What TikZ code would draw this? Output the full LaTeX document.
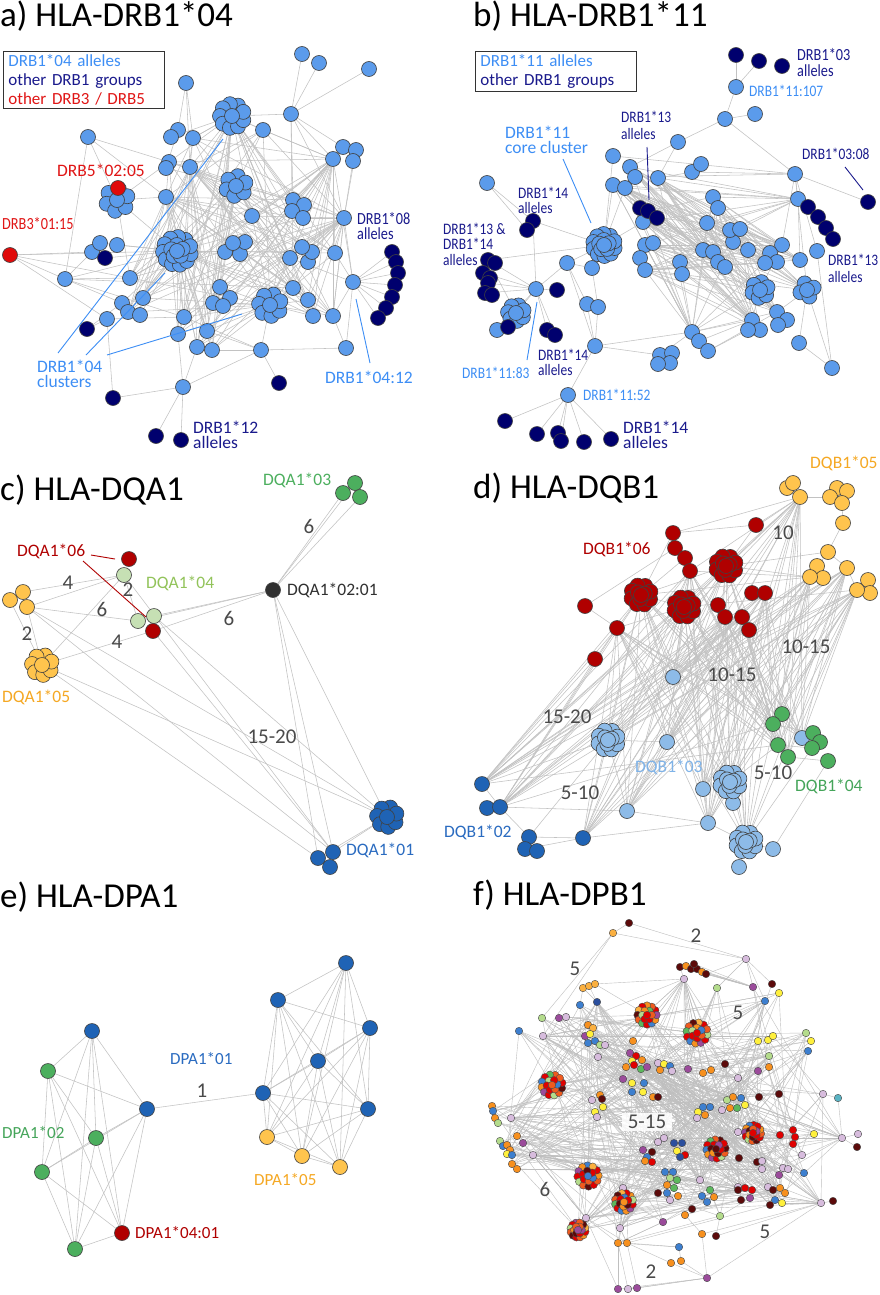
\documentclass[tikz,border=0pt]{standalone}
\usepackage{fontspec}
\setmainfont{Carlito}
\usetikzlibrary{calc}
\pgfdeclarelayer{bgfill}
\pgfdeclarelayer{edges}
\pgfsetlayers{bgfill,edges,main}
\definecolor{cLB}{HTML}{5B9BEB}
\definecolor{cNavy}{HTML}{00006E}
\definecolor{cRed}{HTML}{E00A0A}
\definecolor{tLB}{HTML}{3D8EF5}
\definecolor{tNavy}{HTML}{1A1A8C}
\definecolor{tRed}{HTML}{E01515}
\definecolor{cGold}{HTML}{FFC44D}
\definecolor{tGold}{HTML}{F5A823}
\definecolor{cDR}{HTML}{B00000}
\definecolor{cLG}{HTML}{C6E0B4}
\definecolor{tLG}{HTML}{92C35A}
\definecolor{cGr}{HTML}{4CAF5E}
\definecolor{tGr}{HTML}{45A55A}
\definecolor{cDB}{HTML}{1F63B5}
\definecolor{tDB}{HTML}{2A6BC0}
\definecolor{cLBd}{HTML}{8DBBE8}
\definecolor{tLBd}{HTML}{7FB3E8}
\definecolor{cBlk}{HTML}{303030}
\definecolor{cNum}{HTML}{4A4A4A}
\definecolor{fMar}{HTML}{5C0A0A}
\definecolor{fRed}{HTML}{E00000}
\definecolor{fOrr}{HTML}{F05A1E}
\definecolor{fOrg}{HTML}{F7901E}
\definecolor{fYor}{HTML}{FBB040}
\definecolor{fYel}{HTML}{FFF03C}
\definecolor{fLgr}{HTML}{B4DC8C}
\definecolor{fGrn}{HTML}{5CB85C}
\definecolor{fBlu}{HTML}{3D7FCF}
\definecolor{fDbl}{HTML}{2B4F9E}
\definecolor{fLpu}{HTML}{D7BCDD}
\definecolor{fPur}{HTML}{9B4B9B}
\definecolor{fTea}{HTML}{5AB4C4}
\def\mcol{{"fMar","fRed","fOrr","fOrg","fRed","fYor","fMar","fOrr","fGrn","fRed","fBlu","fOrg","fPur","fRed","fLgr","fOrr"}}
\newcommand\nb[1]{\scalebox{0.84}[1]{#1}}
% ring cluster: name, x, y, count, radius, style
\newcommand\clu[6]{%
  \foreach \k in {1,...,#4}{\node[#6] (#1-\k) at ($(#2,#3)+({360/#4*\k+20}:#5pt)$) {};}%
  \node[#6] (#1) at (#2,#3) {};}
% mosaic cluster: name, x, y, radius, colour offset
\newcommand\mosaic[5]{%
  \pgfmathsetmacro\mro{#4-4.5}%
  \pgfmathsetmacro\mri{(#4-4.5)/2}%
  \foreach \k in {1,...,12}{\pgfmathtruncatemacro\ci{mod(\k+#5,16)}\pgfmathsetmacro\cc{\mcol[\ci]}%
    \node[fn,fill=\cc] (#1-o\k) at ($(#2,#3)+({30*\k+7*#5}:\mro pt)$) {};}%
  \foreach \k in {1,...,6}{\pgfmathtruncatemacro\ci{mod(3*\k+#5+5,16)}\pgfmathsetmacro\cc{\mcol[\ci]}%
    \node[fn,fill=\cc] (#1-i\k) at ($(#2,#3)+({60*\k+11*#5}:\mri pt)$) {};}%
  \pgfmathtruncatemacro\ci{mod(#5+1,16)}\pgfmathsetmacro\cc{\mcol[\ci]}%
  \node[fn,fill=\cc] (#1) at (#2,#3) {};}
\begin{document}
\begin{tikzpicture}[x=1pt,y=-1pt,
  nd/.style={circle,draw=black!75,line width=0.6pt,minimum size=15pt,inner sep=0pt},
  na/.style={nd,fill=cLB}, nk/.style={nd,fill=cNavy}, nr/.style={nd,fill=cRed},
  ndr/.style={nd,fill=cDR}, ndl/.style={nd,fill=cLBd}, ndg/.style={nd,fill=cGr},
  ndb/.style={nd,fill=cDB}, ndy/.style={nd,fill=cGold}, ndlg/.style={nd,fill=cLG},
  ndk/.style={nd,fill=cBlk},
  fn/.style={circle,draw=black!70,line width=0.4pt,minimum size=7.5pt,inner sep=0pt},
  ed/.style={draw=black!24,line width=0.55pt},
  fe/.style={draw=black!25,line width=0.4pt},
  lead/.style={line width=0.9pt},
  lab/.style={anchor=west,inner sep=0pt,align=left},
  num/.style={text=cNum,font=\fontsize{21}{21}\selectfont,inner sep=1pt},
  ttl/.style={anchor=base west,inner sep=0pt,font=\fontsize{35}{38}\selectfont},
  leg/.style={draw=black!80,line width=0.8pt,anchor=north west,align=left,text width=151pt,inner xsep=5pt,inner ysep=3pt,font=\fontsize{17}{19}\selectfont}]
\begin{pgfonlayer}{bgfill}
\fill[white] (0,0) rectangle (879,1295);
\end{pgfonlayer}
\useasboundingbox (0,0) rectangle (879,1295);
% ---------------- titles
\node[ttl] (tA) at (0,27) {a) HLA-DRB1*04};
\node[ttl] (tB) at (473,27) {b) HLA-DRB1*11};
\node[ttl] (tC) at (0,500) {c) HLA-DQA1};
\node[ttl] (tD) at (473,498) {d) HLA-DQB1};
\node[ttl] (tE) at (0,907) {e) HLA-DPA1};
\node[ttl] (tF) at (473,905) {f) HLA-DPB1};
% ================= panel a
\node[leg] (legA) at (3,51) {\textcolor{tLB}{DRB1*04 alleles}\\\textcolor{tNavy}{other DRB1 groups}\\\textcolor{tRed}{other DRB3 / DRB5}};
\foreach \n/\x/\y in {a1/302/54,a2/319/63,a3/369/69,a4/186/83,a5/263/130,a6/291/114,a7/88/137,a8/178/130,a9/171/137,a10/193/138,%
a11/169/162,a12/166/168,a13/190/167,a14/166/197,a15/343/147,a16/356/150,a17/333/159,a18/353/161,a19/293/200,a20/304/205,%
a21/292/211,a22/303/218,a23/252/216,a24/344/218,a25/92/252,a26/100/243,a27/117/245,a28/65/279,a29/130/278,a30/225/252,%
a31/240/254,a32/245/242,a33/233/243,a34/290/258,a35/308/262,a36/312/252,a37/302/247,a38/335/253,a39/353/282,a40/220/287,%
a41/230/298,a42/213/303,a43/223/306,a44/293/288,a45/308/300,a46/313/316,a47/333/316,a48/122/303,a49/143/298,a50/128/312,%
a51/140/315,a52/107/319,a53/184/317,a54/178/334,a55/207/331,a56/197/347,a57/212/350,a58/261/350,a59/346/348,a60/183/387}%
  {\node[na] (\n) at (\x,\y) {};}
\clu{aC1}{232}{116}{9}{12}{na}
\clu{aC2}{117}{200}{6}{11}{na}
\node[nr] (ar1) at (118,188) {};
\clu{aC3}{236}{186}{6}{10}{na}
\clu{aC4}{270}{305}{7}{11}{na}
\clu{aBigO}{177}{251}{11}{14}{na}
\clu{aBig}{177}{251}{5}{6}{na}
\node[nr] (ar2) at (10,255) {};
\foreach \n/\x/\y in {ad1/105/258,ad2/392/252,ad3/396/262,ad4/398/273,ad5/395/285,ad6/392/297,ad7/386/308,ad8/378/318,%
ad9/87/329,ad10/279/383,ad11/113/398,ad12/156/436,ad13/181/440}%
  {\node[nk] (\n) at (\x,\y) {};}
\node[lab,text=tRed,font=\fontsize{17.5}{17}\selectfont] (lA1) at (57,170) {DRB5*02:05};
\node[lab,text=tRed,font=\fontsize{17}{17}\selectfont] (lA2) at (2,224) {\nb{DRB3*01:15}};
\node[lab,text=tNavy,font=\fontsize{17}{15}\selectfont] (lA3) at (357,226) {\nb{DRB1*08}\\\nb{alleles}};
\node[lab,text=tLB,font=\fontsize{17.5}{15}\selectfont] (lA4) at (37,374) {DRB1*04\\clusters};
\node[lab,text=tLB,font=\fontsize{17.5}{17}\selectfont] (lA5) at (325,377) {DRB1*04:12};
\node[lab,text=tNavy,font=\fontsize{17.5}{15}\selectfont] (lA6) at (193,435) {DRB1*12\\alleles};
\coordinate (qa1) at (58,353); \coordinate (qa2) at (223,139);
\coordinate (qa3) at (86,355); \coordinate (qa4) at (165,273);
\coordinate (qa5) at (107,355); \coordinate (qa6) at (242,314);
\coordinate (qa7) at (370,363); \coordinate (qa8) at (356,299);
\draw[lead,tLB] (qa1) -- (qa2);
\draw[lead,tLB] (qa3) -- (qa4);
\draw[lead,tLB] (qa5) -- (qa6);
\draw[lead,tLB] (qa7) -- (qa8);
% ================= panel b
\node[leg] (legB) at (475,51) {\textcolor{tLB}{DRB1*11 alleles}\\\textcolor{tNavy}{other DRB1 groups}};
\foreach \n/\x/\y in {b1/736/87,b2/755/114,b3/725/119,b4/678/142,b5/613/156,b6/630/167,b7/635/177,b8/613/185,b9/625/188,b10/658/178,%
b11/692/172,b12/701/164,b13/713/197,b14/718/208,b15/643/222,b16/795/174,b17/798/199,b18/487/183,b19/567/263,b20/592/268,%
b21/536/289,b22/587/304,b23/598/307,b24/595/346,b25/568/395,b26/660/355,b27/672/353,b28/670/363,b29/658/364,b30/692/332,%
b31/699/341,b32/708/351,b33/645/245,b34/653/243,b35/640/258,b36/645/270,b37/680/262,b38/682/274,b39/703/250,b40/713/252,%
b41/718/262,b42/725/267,b43/733/242,b44/748/250,b45/782/245,b46/770/253,b47/777/262,b48/765/263,b49/800/260,b50/817/251,%
b51/777/312,b52/787/320,b53/778/325,b54/752/320,b55/760/330,b56/748/330,b57/799/343,b58/832/368,b59/707/223,b60/730/230,%
b61/740/229,b62/497/330}%
  {\node[na] (\n) at (\x,\y) {};}
\clu{bCoreO}{604}{245}{10}{11}{na}
\clu{bCore}{604}{245}{5}{5}{na}
\clu{bC2}{516}{313}{7}{8}{na}
\clu{bC3}{760}{290}{6}{8}{na}
\clu{bC4}{807}{290}{4}{7}{na}
\foreach \n/\x/\y in {bd1/736/55,bd2/759/61,bd3/782/66,bd4/640/208,bd5/648/211,bd6/657/218,bd7/808/207,bd8/818/217,bd9/826/228,%
bd10/833/239,bd11/868/202,bd12/533/221,bd13/527/230,bd14/488/260,bd15/495/263,bd16/483/273,bd17/490/278,bd18/488/283,%
bd19/485/293,bd20/492/295,bd21/557/290,bd22/508/327,bd23/547/330,bd24/555/335,bd25/505/421,bd26/537/434,bd27/558/433,%
bd28/561/441,bd29/584/442,bd30/611/439}%
  {\node[nk] (\n) at (\x,\y) {};}
\node[lab,text=tNavy,font=\fontsize{17}{16}\selectfont] (lB1) at (797,63) {\nb{DRB1*03}\\\nb{alleles}};
\node[lab,text=tLB,font=\fontsize{16}{14}\selectfont] (lB2) at (749,91) {\nb{DRB1*11:107}};
\node[lab,text=tNavy,font=\fontsize{16}{17}\selectfont] (lB3) at (621,125) {\nb{DRB1*13}\\\nb{alleles}};
\node[lab,text=tLB,font=\fontsize{17.5}{15}\selectfont] (lB4) at (505,140) {DRB1*11\\core cluster};
\node[lab,text=tNavy,font=\fontsize{16}{14}\selectfont] (lB5) at (802,154) {\nb{DRB1*03:08}};
\node[lab,text=tNavy,font=\fontsize{16}{15}\selectfont] (lB6) at (518,200) {\nb{DRB1*14}\\\nb{alleles}};
\node[lab,text=tNavy,font=\fontsize{16}{15.5}\selectfont] (lB7) at (443,244) {\nb{DRB1*13 \&}\\\nb{DRB1*14}\\\nb{alleles}};
\node[lab,text=tNavy,font=\fontsize{16}{17}\selectfont] (lB8) at (828,268) {\nb{DRB1*13}\\\nb{alleles}};
\node[lab,text=tLB,font=\fontsize{16}{14}\selectfont] (lB9) at (462,373) {\nb{DRB1*11:83}};
\node[lab,text=tNavy,font=\fontsize{16}{15}\selectfont] (lB10) at (538,362) {\nb{DRB1*14}\\\nb{alleles}};
\node[lab,text=tLB,font=\fontsize{16}{14}\selectfont] (lB11) at (583,395) {\nb{DRB1*11:52}};
\node[lab,text=tNavy,font=\fontsize{17.5}{15}\selectfont] (lB12) at (623,435) {DRB1*14\\alleles};
\coordinate (qb1) at (647,147); \coordinate (qb2) at (649,200);
\coordinate (qb3) at (563,159); \coordinate (qb4) at (591,223);
\coordinate (qb5) at (845,167); \coordinate (qb6) at (863,190);
\coordinate (qb7) at (527,360); \coordinate (qb8) at (537,302);
\draw[lead,tNavy] (qb1) -- (qb2);
\draw[lead,tLB] (qb3) -- (qb4);
\draw[lead,tNavy] (qb5) -- (qb6);
\draw[lead,tLB] (qb7) -- (qb8);
% ================= panel c
\foreach \n/\x/\y in {c03a/355/483,c03b/343/493,c03c/360/497}{\node[ndg] (\n) at (\x,\y) {};}
\node[ndr] (cR1) at (129,559) {};
\node[ndlg] (cLG1) at (124,575) {};
\foreach \n/\x/\y in {cY1/23/592,cY2/10/600,cY3/27/607}{\node[ndy] (\n) at (\x,\y) {};}
\node[ndlg] (cLG2) at (138,621) {};
\node[ndlg] (cLG3) at (154,616) {};
\node[ndr] (cR2) at (153,631) {};
\node[ndk] (cK) at (273,590) {};
\clu{cYc}{42}{665}{7}{10}{ndy}
\clu{cBc}{387}{817}{7}{10}{ndb}
\foreach \n/\x/\y in {cB1/333/852,cB2/318/858,cB3/330/867}{\node[ndb] (\n) at (\x,\y) {};}
\node[lab,text=cGr,font=\fontsize{17.5}{17}\selectfont] (lC1) at (263,480) {DQA1*03};
\node[lab,text=cDR,font=\fontsize{17.5}{17}\selectfont] (lC2) at (17,551) {DQA1*06};
\node[lab,text=tLG,font=\fontsize{17.5}{17}\selectfont] (lC3) at (146,583) {DQA1*04};
\node[lab,text=cBlk,font=\fontsize{17.5}{17}\selectfont] (lC4) at (287,590) {DQA1*02:01};
\node[lab,text=tGold,font=\fontsize{17.5}{17}\selectfont] (lC5) at (2,697) {DQA1*05};
\node[lab,text=tDB,font=\fontsize{17.5}{17}\selectfont] (lC6) at (346,850) {DQA1*01};
\node[num] (nC1) at (309,526) {6};
\node[num] (nC2) at (68,583) {4};
\node[num] (nC3) at (128,590) {2};
\node[num] (nC4) at (102,609) {6};
\node[num] (nC5) at (229,618) {6};
\node[num] (nC6) at (117,642) {4};
\node[num] (nC7) at (27,634) {2};
\node[num] (nC8) at (272,737) {15-20};
\coordinate (qc1) at (91,555); \coordinate (qc2) at (115,559);
\coordinate (qc3) at (83,561); \coordinate (qc4) at (146,617);
\draw[lead,cDR] (qc1) -- (qc2);
\draw[lead,cDR] (qc3) -- (qc4);
% ================= panel d
\foreach \n/\x/\y in {dY0/787/488,dY1/793/483,dY2/800/497,dY3a/837/488,dY3b/847/491,dY3c/830/497,dY3/842/503,dY4/843/523,%
dY5/828/552,dY6/847/568,dY7a/817/566,dY7b/823/578,dY7/810/577,dY8a/868/580,dY8b/870/593,dY8/857/590}%
  {\node[ndy] (\n) at (\x,\y) {};}
\foreach \n/\x/\y in {dR1/756/525,dR2/673/533,dR3/675/548,dR4/685/558,dR5/690/571,dR6/585/606,dR7/617/628,dR8/595/659,%
dR9/752/593,dR10/765/593,dR11/718/605,dR12/725/617,dR13/742/617,dR14/749/630}%
  {\node[ndr] (\n) at (\x,\y) {};}
\clu{dRC1o}{726}{566}{8}{10}{ndr}\clu{dRC1}{726}{566}{3}{4}{ndr}
\clu{dRC2o}{641}{595}{8}{10}{ndr}\clu{dRC2}{641}{595}{3}{4}{ndr}
\clu{dRC3o}{684}{607}{8}{10}{ndr}\clu{dRC3}{684}{607}{3}{4}{ndr}
\foreach \n/\x/\y in {dL1/673/677,dL2/667/742,dL3/802/738,dL4/703/789,dL5/733/803,dL6/627/811,dL7/708/823,dL8/773/849,dL9/739/867}%
  {\node[ndl] (\n) at (\x,\y) {};}
\clu{dLC1o}{608}{740}{8}{10}{ndl}\clu{dLC1}{608}{740}{3}{4}{ndl}
\clu{dLC2o}{730}{782}{8}{10}{ndl}\clu{dLC2}{730}{782}{3}{4}{ndl}
\clu{dLC3o}{746}{842}{8}{10}{ndl}\clu{dLC3}{746}{842}{3}{4}{ndl}
\foreach \n/\x/\y in {dG1/782/714,dG2/773/724,dG3/813/733,dG4/820/742,dG5/812/748,dG6/778/745,dG7/788/757,dG8/828/761}%
  {\node[ndg] (\n) at (\x,\y) {};}
\foreach \n/\x/\y in {dB1/482/784,dB2/487/808,dB3/500/807,dB4/529/837,dB5/525/849,dB6/537/851,dB7/583/838}%
  {\node[ndb] (\n) at (\x,\y) {};}
\node[lab,text=tGold,font=\fontsize{17.5}{17}\selectfont] (lD1) at (810,463) {DQB1*05};
\node[lab,text=cDR,font=\fontsize{17.5}{17}\selectfont] (lD2) at (583,549) {DQB1*06};
\node[lab,text=tLBd,font=\fontsize{17.5}{17}\selectfont] (lD3) at (635,767) {DQB1*03};
\node[lab,text=tGr,font=\fontsize{17.5}{17}\selectfont] (lD4) at (795,786) {DQB1*04};
\node[lab,text=tDB,font=\fontsize{17.5}{17}\selectfont] (lD5) at (444,832) {DQB1*02};
\node[num] (nD1) at (783,533) {10};
\node[num] (nD2) at (806,647) {10-15};
\node[num] (nD3) at (732,675) {10-15};
\node[num] (nD4) at (567,717) {15-20};
\node[num] (nD5) at (773,773) {5-10};
\node[num] (nD6) at (580,793) {5-10};
% ================= panel e
\foreach \n/\x/\y/\s in {e1/92/1031/ndb,e2/48/1071/ndg,e3/96/1138/ndg,e4/42/1172/ndg,e5/75/1249/ndg,e6/122/1233/ndr,e7/147/1109/ndb,%
e8/346/963/ndb,e9/278/1000/ndb,e10/370/1028/ndb,e11/318/1061/ndb,e12/263/1093/ndb,e13/368/1109/ndb,e14/267/1137/ndy,e15/302/1156/ndy,e16/340/1167/ndy}%
  {\node[\s] (\n) at (\x,\y) {};}
\node[lab,text=tDB,font=\fontsize{17}{17}\selectfont] (lE1) at (170,1059) {DPA1*01};
\node[lab,text=tGr,font=\fontsize{17}{17}\selectfont] (lE2) at (2,1133) {DPA1*02};
\node[lab,text=tGold,font=\fontsize{17}{17}\selectfont] (lE3) at (254,1180) {DPA1*05};
\node[lab,text=cDR,font=\fontsize{17}{17}\selectfont] (lE4) at (135,1233) {DPA1*04:01};
\node[num] (nE1) at (202,1091) {1};
% ================= panel f
\foreach [count=\i] \x/\y/\cl in {543/1036/fLpu,684/979/fLpu,597/1002/fDbl,580/1005/fBlu,542/1018/fLgr,559/1018/fPur,566/1017/fLpu,519/1031/fBlu,588/1025/fOrg,593/1028/fYor,%
633/1041/fOrg,598/1057/fLpu,630/1053/fPur,688/1069/fPur,703/1073/fOrg,711/1070/fOrg,725/1064/fMar,738/1078/fLpu,758/1071/fPur,769/1067/fOrg,%
769/1056/fLgr,758/1041/fYel,768/1040/fYel,773/1036/fYel,806/1033/fLgr,811/1041/fYel,808/1051/fBlu,623/1079/fPur,632/1083/fYel,644/1083/fBlu,%
643/1092/fYel,632/1092/fBlu,653/1097/fOrg,658/1097/fMar,511/1118/fLpu,517/1136/fOrg,523/1143/fPur,533/1155/fLpu,623/1188/fLpu,586/1218/fLpu,%
620/1228/fLpu,618/1243/fOrg,627/1243/fOrg,663/1222/fPur,685/1215/fOrg,692/1209/fMar,720/1216/fLgr,658/1193/fMar,700/1180/fLpu,658/1142/fLpu,%
664/1138/fLpu,739/1158/fMar,757/1162/fMar,762/1161/fLpu,762/1169/fLpu,738/1132/fLpu,780/1135/fRed,793/1130/fRed,795/1137/fRed,793/1144/fRed,%
814/1134/fYel,842/1138/fLpu,802/1155/fLpu,804/1173/fBlu,783/1168/fLpu,788/1169/fLpu,779/1175/fPur,768/1187/fLpu,738/1187/fLpu,821/1203/fLpu,%
759/1097/fMar,779/1094/fMar,823/1094/fLpu,722/1110/fLpu,717/988/fLgr,753/987/fPur,772/984/fMar,765/1001/fBlu,779/993/fYel,492/1106/fOrg,%
493/1111/fBlu,495/1118/fOrg,498/1123/fLgr,512/1164/fOrg,517/1169/fOrg,%
585/1036/fPur,590/1034/fYel,595/1041/fBlu,600/1045/fLgr,605/1045/fLpu,588/1043/fBlu,%
636/1056/fRed,642/1060/fOrg,632/1061/fYel,626/1067/fOrg,634/1065/fRed,641/1069/fGrn,647/1067/fPur,%
658/1063/fLpu,664/1064/fYel,670/1066/fBlu,660/1070/fOrg,672/1071/fLpu,%
600/1095/fOrg,602/1099/fMar,603/1107/fYel,595/1112/fYel,597/1117/fLpu,592/1100/fLpu,%
500/1141/fLgr,503/1146/fBlu,507/1145/fOrg,510/1150/fOrg,507/1154/fYel,512/1155/fBlu,%
665/1172/fBlu,673/1172/fBlu,670/1178/fLgr,677/1180/fGrn,667/1185/fOrg,674/1188/fGrn,678/1196/fOrg,670/1200/fLpu,667/1193/fBlu,%
702/1196/fBlu,710/1190/fGrn,714/1197/fOrg,707/1202/fBlu,%
643/1150/fPur,652/1152/fMar,647/1157/fBlu,652/1162/fRed,645/1161/fOrg,%
674/1143/fDbl,682/1143/fDbl,677/1151/fYel,685/1155/fRed,680/1157/fDbl,%
773/1190/fMar,780/1188/fOrg,785/1193/fOrg,775/1200/fBlu,782/1203/fYel,770/1205/fMar,%
738/1190/fMar,745/1188/fRed,752/1190/fRed,741/1200/fMar,750/1198/fPur,%
727/1100/fLgr,733/1097/fOrg,741/1098/fBlu,745/1105/fYel,737/1108/fGrn,730/1108/fOrg,%
698/1112/fYel,705/1115/fOrg,703/1107/fBlu,710/1107/fBlu,697/1118/fLpu}%
  {\node[fn,fill=\cl] (f\i) at (\x,\y) {}; \xdef\fN{\i}}
\foreach \n/\x/\y/\cl in {fP1/629/923/fMar,fP2/613/933/fYor,fP3/746/959/fLpu,fR1/680/967/fMar,fR2/686/966/fOrg,fR3/691/969/fMar,%
fR4/697/969/fMar,fR5/702/972/fOrg,fR6/706/974/fMar,fR7/694/964/fMar,fP4/583/988/fYor,fP5/589/986/fYor,fP6/595/984/fYor,%
fP7/858/1134/fLpu,fP8/857/1147/fMar,fP9/833/1201/fMar,fP10/838/1098/fTea,fB1/618/1289/fPur,fB2/628/1289/fLpu,fB3/637/1288/fPur,%
fB4/707/1278/fPur,fB5/671/1263/fOrg,fB6/681/1261/fOrg,fB7/679/1247/fBlu,fB8/702/1234/fOrg,fB9/716/1236/fMar}%
  {\node[fn,fill=\cl] (\n) at (\x,\y) {};}
\mosaic{fm1}{647}{1015}{14}{0}
\mosaic{fm2}{697}{1033}{15}{3}
\mosaic{fm3}{552}{1085}{15}{6}
\mosaic{fm4}{588}{1176}{15}{9}
\mosaic{fm5}{624}{1202}{13.5}{2}
\mosaic{fm6}{716}{1149}{14}{5}
\mosaic{fm7}{753}{1133}{12.5}{8}
\mosaic{fm8}{578}{1230}{12}{11}
\node[num] (nF1) at (696,936) {2};
\node[num] (nF2) at (575,969) {5};
\node[num] (nF3) at (738,1013) {5};
\node[num,fill=white,fill opacity=0.85,text opacity=1,inner xsep=6pt,inner ysep=2pt] (nF4) at (647,1122) {5-15};
\node[num] (nF5) at (545,1189) {6};
\node[num] (nF6) at (765,1232) {5};
\node[num] (nF7) at (651,1272) {2};
% ================= edges
\begin{pgfonlayer}{edges}
% panel a
\foreach \u/\v in {a1/a6,a2/a6,a3/a6,aC1/a6,aC1/a5,a6/a15,a6/a17,a6/a19,a6/a24,a6/a44,a4/a10,a4/a8,a4/a13,a7/a11,a7/a28,a7/a14,%
ar2/a28,ar2/a25,ar2/aBig,ar2/a52,ar2/a29,a39/ad2,a39/ad3,a39/ad4,a39/ad5,a39/ad6,a39/ad7,a39/ad8,a39/a38,a39/a59,a39/a17,a39/a24,%
a39/a47,a39/a34,a60/a58,a60/ad12,a60/ad13,a60/ad11,a60/a54,a60/a56,ad11/a52,ad10/a58,a58/aC4,a58/a59,a59/a47,a58/a55,a58/a53,%
a28/a25,a28/a29,a28/aBig,a28/a48,a28/a53,a28/a44,a29/aBig,aC2/a14,aC2/a11,aC2/aBig,aC2/a29,a12/aC3,a12/a8,a13/aC1,a16/a24,%
a18/a24,a15/a17,a9/aC1,a10/aC1,a5/a17,a27/aBig,a26/aBig,a48/aBig,a50/aBig,a51/aBig,a30/aBig,a52/a53,ad9/a48,ad9/a52,a57/a58,%
a24/a47,ad1/aBig,a7/aC2}%
  {\draw[ed] (\u) -- (\v);}
\foreach \u in {aC1,aBig,aC3,aC4,a17,a14,a13,a24}{\foreach \v in {a29,a11,a53,a54,a55,a44,a46,a47,a19,a23,a40,a49,a36,a38,a10,a5,a42,a50,a56,a57,a34,a45,a22}{\draw[ed] (\u) -- (\v);}}
% panel b
\foreach \u/\v in {bd1/b1,b1/bd2,b1/b3,b3/b2,b3/b4,b3/b16,b4/b10,b4/b6,b16/b17,b16/bd11,b16/b11,b16/b5,b16/b7,b16/b45,b16/bC4,%
b16/b50,b17/bd7,b17/bd8,b17/b49,bd7/bd8,bd8/bd9,bd9/bd10,b18/bd12,b18/bd13,bCore/b19,bCore/b20,bCore/b5,bCore/b8,bCore/b9,bCore/b15,%
bCore/bd12,b19/b21,b19/b24,b19/b20,b21/bC2,b21/bd21,b21/bd23,b21/bd24,b21/bd14,b21/bd16,b21/bd18,b21/bd19,b21/bd12,b21/b62,%
b24/b25,b25/bd25,b25/bd26,b25/bd27,b25/bd28,b25/bd29,b25/bd30,b24/b26,b22/b24,b22/b19,b24/b30,b26/b30,b30/b51,b30/b54,b30/bC3,%
b30/b45,b30/b37,b30/b33,b30/b8,b31/b54,b32/b51,b32/b56,bC3/b45,bC3/b54,bC4/b57,bC4/b51,b57/b58,bC4/b58,b53/bC3,b50/b58,%
bC2/bd22,bC2/bd14,b20/b23,b23/b24,bd14/bCore,b10/b11,b11/b12,bd4/b15,bd6/b59,bd5/b13}%
  {\draw[ed] (\u) -- (\v);}
\foreach \u in {b6,b8,b9,b10,b13,b15,b33,b36,b59,b61}{\foreach \v in {bC3,bC4,b45,b47,b49,b51,b54,b48,b39,b41,b17,b30,b42,b55}{\draw[ed] (\u) -- (\v);}}
% panel c
\foreach \u/\v in {cY3/cLG1,cY3/cLG2,cY2/cYc,cY3/cYc,cYc/cLG1,cYc/cR2,cLG1/cLG2,cLG3/cK,cLG2/cK,cR2/cK,cK/c03a,cK/c03b,cK/c03c,%
cK/cBc,cK/cB1,cK/cB2,cY3/cBc,cY3/cB1,cYc/cBc,cYc/cB2,cLG1/cB1,cLG3/cBc,cR2/cB1,cBc/cB1,cBc/cB2,cY1/cLG1}%
  {\draw[ed] (\u) -- (\v);}
% panel d
\foreach \u/\v in {dY1/dY2,dY2/dY3c,dY3/dY4,dY4/dY5,dY5/dY7,dY5/dY6,dY6/dY8,dY2/dR1,dY2/dR2,dY2/dRC1,dY2/dRC3,dY2/dR5,dY5/dRC1,%
dY7/dRC2,dY7/dRC1,dY7/dR5,dY8/dRC3,dR1/dR2,dR1/dRC1,dR2/dRC2,dR6/dR7,dR7/dR8,dR7/dRC2,dR7/dRC3,dRC2/dRC3,dRC2/dRC1,dR5/dRC3,%
dR4/dRC2,dB1/dB3,dB2/dB3,dB1/dLC1,dB3/dL6,dB3/dB4,dB4/dB7,dB5/dB7,dB7/dLC1,dB4/dLC1,dB7/dL7,dB3/dG2,dB1/dG6,dLC1/dL2,dLC1/dL6,%
dL6/dL7,dL7/dLC3,dL7/dL4,dL7/dLC2,dLC3/dL8,dLC3/dL9,dLC2/dG6,dL8/dG8,dLC3/dG5,dG2/dG3,dG6/dG5,dG7/dG8,dR6/dR3,dB1/dR8,dR8/dB3}%
  {\draw[ed] (\u) -- (\v);}
\foreach \u in {dY2,dY7,dY8,dY6,dRC1,dRC2,dRC3,dR7,dR13,dR10,dR5,dR12}{\foreach \v in {dL1,dLC1,dL2,dG2,dG6,dG7,dLC2,dL4,dL7,dLC3,dB1,dB3,dB7,dL6,dL3}{\draw[ed] (\u) -- (\v);}}
% panel e
\foreach \i in {1,...,6}{\pgfmathtruncatemacro\s{\i+1}\foreach \j in {\s,...,7}{\draw[ed] (e\i) -- (e\j);}}
\foreach \i in {8,...,15}{\pgfmathtruncatemacro\s{\i+1}\foreach \j in {\s,...,16}{\draw[ed] (e\i) -- (e\j);}}
\draw[ed] (e7) -- (e12);
% panel f
\pgfmathsetseed{4242}
\foreach \k in {1,...,330}{\pgfmathtruncatemacro\u{random(1,\fN)}\pgfmathtruncatemacro\v{mod(\u-1+random(1,\fN-1),\fN)+1}\draw[fe] (f\u) -- (f\v);}
\foreach \h in {1,2,3,35,38,40,41,62,70,49,21,18,12}{\foreach \k in {1,...,12}{\pgfmathtruncatemacro\u{random(1,\fN)}\ifnum\u=\h\relax\else\draw[fe] (f\h) -- (f\u);\fi}}
\foreach \m in {1,...,8}{\foreach \k in {1,...,16}{\pgfmathtruncatemacro\u{random(1,\fN)}\draw[fe] (fm\m) -- (f\u);}}
\foreach \u/\v in {fP1/fP3,fP2/fP3,fP1/fP2,fP2/f1,fP2/f5,fP3/f76,fP3/f77,fP3/f78,fP3/f75,fP3/fR6,fR1/f76,fR2/f76,fR3/f76,fR4/f76,%
fR5/f76,fR6/f76,fR7/f76,fR1/f2,fP4/f3,fP5/f3,fP6/f2,fP7/f62,fP8/f62,fP9/f70,fP10/f62,fP10/f73,fB1/f42,fB2/f42,fB3/f43,fB1/f40,%
fB1/fB4,fB2/fB4,fB3/fB4,fB4/fB8,fB4/fB5,fB4/fB6,fB4/f70,fB5/f43,fB6/fB7,fB7/f43,fB7/f42,fB8/f45,fB9/f47,fB8/f70,fB9/f70,%
f42/f43,f42/f40,f43/f41,f40/fm8,f41/fm5,fP4/f4,fP6/fm1}%
  {\draw[fe] (\u) -- (\v);}
\end{pgfonlayer}
\end{tikzpicture}
\end{document}
